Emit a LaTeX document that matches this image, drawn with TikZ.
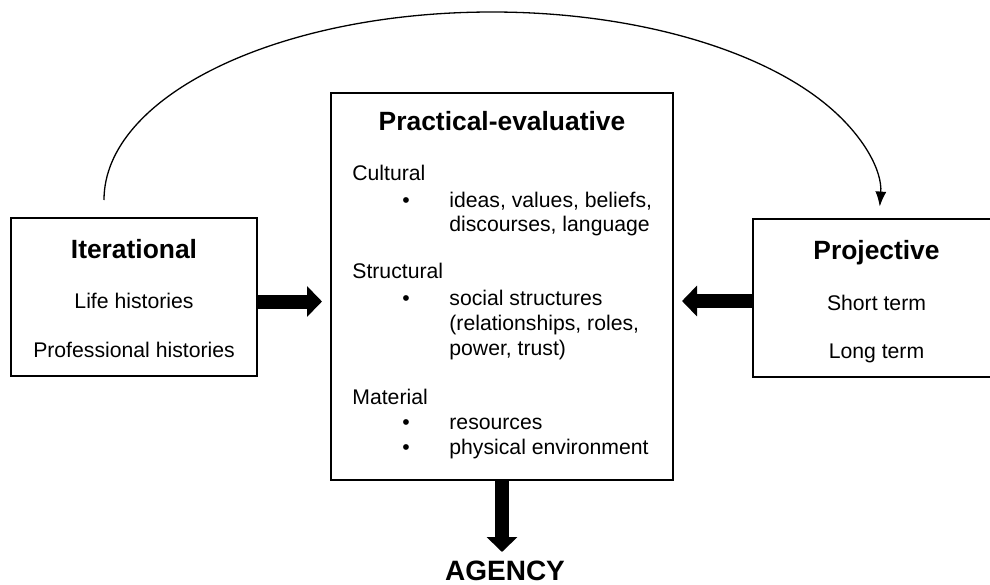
\documentclass[tikz,border=0pt]{standalone}
\usepackage{fontspec}
\setmainfont{Liberation Sans}
\usetikzlibrary{arrows.meta}
\tikzset{
	box/.style={draw,line width=0.95pt,inner sep=0pt},
	txt/.style={inner sep=0pt,anchor=base,font=\fontsize{10.6}{12.7}\selectfont},
	ltxt/.style={txt,anchor=base west},
	head/.style={inner sep=0pt,anchor=base,font=\fontsize{13.2}{15.8}\selectfont\bfseries},
	fat/.style={line width=7pt,-{Triangle[length=7.5pt,width=15pt]}}
}
\begin{document}
\begin{tikzpicture}[x=0.5pt,y=-0.5pt,line join=miter]
				\useasboundingbox (0,0) rectangle (990,584);
				\node[box,minimum width=123pt,minimum height=79pt] (iter) at (134,297) {};
				\node[box,minimum width=123.5pt,minimum height=79pt] (proj) at (876.5,298) {};
				\node[box,minimum width=171pt,minimum height=193.5pt] (prac) at (502,286.5) {};
				\node[head] (iterT) at (134,258) {Iterational};
				\node[txt] (life) at (134,308) {Life histories};
				\node[txt] (prof) at (134,357) {Professional histories};
				\node[head] (projT) at (876.5,259) {Projective};
				\node[txt] (short) at (876.5,310) {Short term};
				\node[txt] (long) at (876.5,358) {Long term};
				\node[head] (pracT) at (502,130) {Practical-evaluative};
				\node[ltxt] (cult) at (352,180) {Cultural};
				\node[txt] (b1) at (406,207) {\textbullet};
				\node[ltxt] (ideas) at (449,207) {ideas, values, beliefs,};
				\node[ltxt] (disc) at (449,231) {discourses, language};
				\node[ltxt] (struc) at (352,278) {Structural};
				\node[txt] (b2) at (406,305) {\textbullet};
				\node[ltxt] (social) at (449,305) {social structures};
				\node[ltxt] (rel) at (449,330) {(relationships, roles,};
				\node[ltxt] (power) at (449,355) {power, trust)};
				\node[ltxt] (mat) at (352,404) {Material};
				\node[txt] (b3) at (406,429) {\textbullet};
				\node[ltxt] (res) at (449,429) {resources};
				\node[txt] (b4) at (406,454) {\textbullet};
				\node[ltxt] (phys) at (449,454) {physical environment};
				\node[inner sep=0pt,anchor=base,font=\fontsize{14}{16.8}\selectfont\bfseries] (agency) at (505,580) {AGENCY};
				\coordinate (li) at (322,301.5);
				\coordinate (ri) at (682,301);
				\coordinate (di) at (502,552);
				\coordinate (loop) at (104,200);
				\draw[fat] (iter.east |- li) -- (li);
				\draw[fat] (proj.west |- ri) -- (ri);
				\draw[fat] (prac.south) -- (di);
				\draw[line width=0.65pt,-{Latex[length=7.5pt,width=5.5pt]}] (loop) arc[start angle=180,end angle=-2,x radius=194pt,y radius=94pt];
			\end{tikzpicture}
\end{document}
